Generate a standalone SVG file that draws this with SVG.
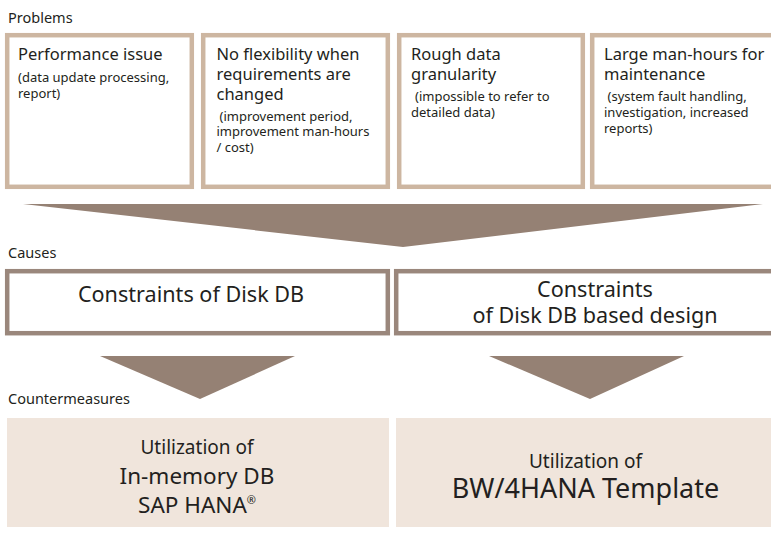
<svg xmlns="http://www.w3.org/2000/svg" width="771" height="536" viewBox="0 0 771 536">
<style>
text{font-family:"Noto Sans","Liberation Sans",sans-serif;fill:#231f20}
.lbl{font-size:14.5px}
.h{font-size:16.5px}
.s{font-size:13px}
.pbox{fill:#fff;stroke:#cdb6a1;stroke-width:4.5}
.cbox{fill:#fff;stroke:#9a877c;stroke-width:4.5}
.mbox{fill:#f0e5dc}
.arr{fill:#958174}
.c{text-anchor:middle}
</style>
<rect width="771" height="536" fill="#fff"/>
<text class="lbl" x="8" y="22.5">Problems</text>
<text class="lbl" x="8" y="258">Causes</text>
<text class="lbl" x="8" y="403.5">Countermeasures</text>

<g id="p1">
<rect class="pbox" x="7.2" y="35.2" width="184.6" height="151.6"/>
<text class="h" x="18" y="60">Performance issue</text>
<text class="s" x="18" y="82">(data update processing,</text>
<text class="s" x="18" y="97.5">report)</text>
</g>
<g id="p2">
<rect class="pbox" x="203.2" y="35.2" width="184.6" height="151.6"/>
<text class="h" x="216.5" y="60">No flexibility when</text>
<text class="h" x="216.5" y="80">requirements are</text>
<text class="h" x="216.5" y="100">changed</text>
<text class="s" x="219.5" y="120.5">(improvement period,</text>
<text class="s" x="216.5" y="136">improvement man-hours</text>
<text class="s" x="216.5" y="152">/ cost)</text>
</g>
<g id="p3">
<rect class="pbox" x="399.2" y="35.2" width="183.6" height="151.6"/>
<text class="h" x="411" y="60">Rough data</text>
<text class="h" x="411" y="80">granularity</text>
<text class="s" x="415" y="101">(impossible to refer to</text>
<text class="s" x="411" y="117">detailed data)</text>
</g>
<g id="p4">
<rect class="pbox" x="592.2" y="35.2" width="185" height="151.6"/>
<text class="h" x="604" y="60">Large man-hours for</text>
<text class="h" x="604" y="80">maintenance</text>
<text class="s" x="607.5" y="101">(system fault handling,</text>
<text class="s" x="604" y="117">investigation, increased</text>
<text class="s" x="604" y="133">reports)</text>
</g>

<g id="connectors">
<polygon class="arr" points="23,204 763,204 403,247"/>
<polygon class="arr" points="100,356 295,356 200,399"/>
<polygon class="arr" points="489,356 684,356 590,399"/>
</g>

<g id="c1">
<rect class="cbox" x="7.2" y="271.2" width="380.6" height="62"/>
<text class="c" x="191" y="302" font-size="21.6">Constraints of Disk DB</text>
</g>
<g id="c2">
<rect class="cbox" x="396.2" y="271.2" width="382" height="62"/>
<text class="c" x="595" y="297" font-size="21.6">Constraints</text>
<text class="c" x="595" y="323" font-size="21.6">of Disk DB based design</text>
</g>

<g id="m1">
<rect class="mbox" x="7" y="418" width="382" height="109"/>
<text class="c" x="197" y="453.5" font-size="19">Utilization of</text>
<text class="c" x="197" y="483.5" font-size="22.5">In-memory DB</text>
<text class="c" x="197" y="513" font-size="22.5">SAP HANA<tspan font-size="11" dy="-9">®</tspan></text>
</g>
<g id="m2">
<rect class="mbox" x="396" y="418" width="375" height="109"/>
<text class="c" x="585.5" y="468" font-size="19">Utilization of</text>
<text class="c" x="585.5" y="498" font-size="27">BW/4HANA Template</text>
</g>
</svg>
